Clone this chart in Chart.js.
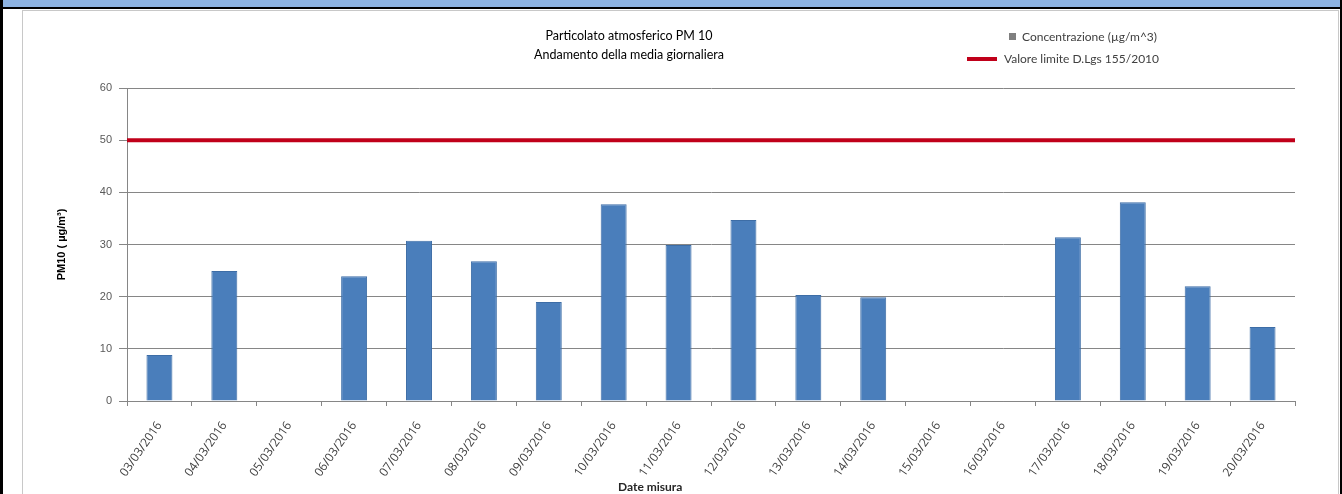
<!DOCTYPE html>
<html>
<head>
<meta charset="utf-8">
<script src="https://cdn.jsdelivr.net/npm/chart.js@4.4.1/dist/chart.umd.min.js"></script>
<style>
    html, body { margin: 0; padding: 0; background: #fff; }
    #page { position: relative; width: 1342px; height: 494px; overflow: hidden; font-family: Lato, 'Open Sans', sans-serif; }
    #topbar { position: absolute; left: 0; top: 0; width: 1342px; height: 7px; background: #8db3e2; border-bottom: 2px solid #000; }
    #leftrule { position: absolute; left: 0; top: 0; width: 3px; height: 494px; background: #000; }
    #rightrule { position: absolute; left: 1340px; top: 0; width: 2px; height: 494px; background: #000; }
    #frame { position: absolute; left: 22px; top: 10px; width: 1315px; height: 500px; border: 1px solid #c8c8c8; }
    #wrap { position: absolute; left: 0; top: 0; width: 1342px; height: 494px; }
    #title { position: absolute; left: 429px; top: 26px; width: 400px; text-align: center; font-size: 12.5px; line-height: 19px; color: #000; }
    #legend { position: absolute; left: 960px; top: 28px; font-size: 12px; color: #404040; }
    .item { position: relative; height: 22px; line-height: 17px; }
    .swatch { position: absolute; }
    #xtitle { position: absolute; left: 618px; top: 479px; font-size: 12px; font-weight: bold; color: #262626; }
</style>
</head>
<body>
<div id="page">
    <div id="frame"></div>
    <div id="wrap"><canvas id="chart" width="1342" height="494"></canvas></div>
    <div id="topbar"></div>
    <div id="leftrule"></div>
    <div id="rightrule"></div>
    <div id="title">Particolato atmosferico PM 10<br>Andamento della media giornaliera</div>
    <div id="legend"></div>
    <div id="xtitle">Date misura</div>
</div>
<script>
const dates = ['03/03/2016', '04/03/2016', '05/03/2016', '06/03/2016', '07/03/2016', '08/03/2016',
    '09/03/2016', '10/03/2016', '11/03/2016', '12/03/2016', '13/03/2016', '14/03/2016',
    '15/03/2016', '16/03/2016', '17/03/2016', '18/03/2016', '19/03/2016', '20/03/2016'];
const concentrazione = [8.8, 24.9, null, 23.9, 30.7, 26.8, 19.0, 37.7, 29.9, 34.7, 20.3, 19.9,
    null, null, 31.4, 38.1, 22.0, 14.2];
const valoreLimite = [50, 50, 50, 50, 50, 50, 50, 50, 50, 50, 50, 50, 50, 50, 50, 50, 50, 50];
const yTicks = [0, 10, 20, 30, 40, 50, 60];

const gridColor = '#868686';

const chart = new Chart(document.getElementById('chart'), {
    type: 'bar',
    data: {
        labels: dates,
        datasets: [
            {
                label: 'Concentrazione  (µg/m^3)',
                data: concentrazione,
                backgroundColor: '#4a7ebb',
                borderColor: '#3d6da6',
                borderWidth: 1,
                barPercentage: 0.4,
                categoryPercentage: 1,
                grouped: false,
                order: 1,
            },
            {
                type: 'line',
                label: 'Valore limite D.Lgs 155/2010',
                data: valoreLimite,
                xAxisID: 'x2',
                borderColor: '#c0001a',
                borderWidth: 4,
                pointRadius: 0,
                order: 0,
            },
        ],
    },
    options: {
        responsive: false,
        animation: false,
        layout: { padding: { left: 0, top: 88, right: 47, bottom: 0 } },
        plugins: {
            legend: { display: false },
            tooltip: { enabled: false },
        },
        scales: {
            x: {
                offset: true,
                afterFit: (scale) => { scale.height = 93; },
                grid: { drawOnChartArea: false, offset: true, tickLength: 5, color: gridColor },
                border: { color: gridColor },
                ticks: {
                    autoSkip: false,
                    minRotation: 55,
                    maxRotation: 55,
                    padding: 13,
                    color: '#404040',
                    font: { family: 'Open Sans', size: 12 },
                },
            },
            x2: {
                type: 'category',
                labels: dates,
                offset: false,
                display: false,
            },
            y: {
                min: 0,
                max: 60,
                afterFit: (scale) => { scale.width = 127; },
                afterBuildTicks: (scale) => { scale.ticks = yTicks.map(v => ({ value: v })); },
                grid: { color: gridColor, tickLength: 8 },
                border: { color: gridColor },
                ticks: {
                    padding: 7,
                    color: '#595959',
                    font: { family: 'Liberation Sans', size: 11 },
                },
                title: {
                    display: true,
                    text: 'PM10 ( µg/m³)',
                    color: '#000',
                    padding: { top: 55, bottom: 0 },
                    font: { family: 'Liberation Sans', size: 11, weight: 'bold' },
                },
            },
        },
    },
});

// legend in the top-right corner, built from the datasets
const legend = document.getElementById('legend');
chart.data.datasets.forEach((ds) => {
    const item = document.createElement('div');
    item.className = 'item';
    const sw = document.createElement('span');
    sw.className = 'swatch';
    const text = document.createElement('span');
    if (ds.type === 'line') {
        sw.style.cssText = 'left:7px;top:7px;width:30px;height:4px;background:' + ds.borderColor;
        text.style.marginLeft = '44px';
    } else {
        sw.style.cssText = 'left:49px;top:5px;width:7px;height:7px;background:#7f7f7f';
        text.style.marginLeft = '62px';
    }
    text.textContent = ds.label;
    item.appendChild(sw);
    item.appendChild(text);
    legend.appendChild(item);
});
</script>
</body>
</html>
